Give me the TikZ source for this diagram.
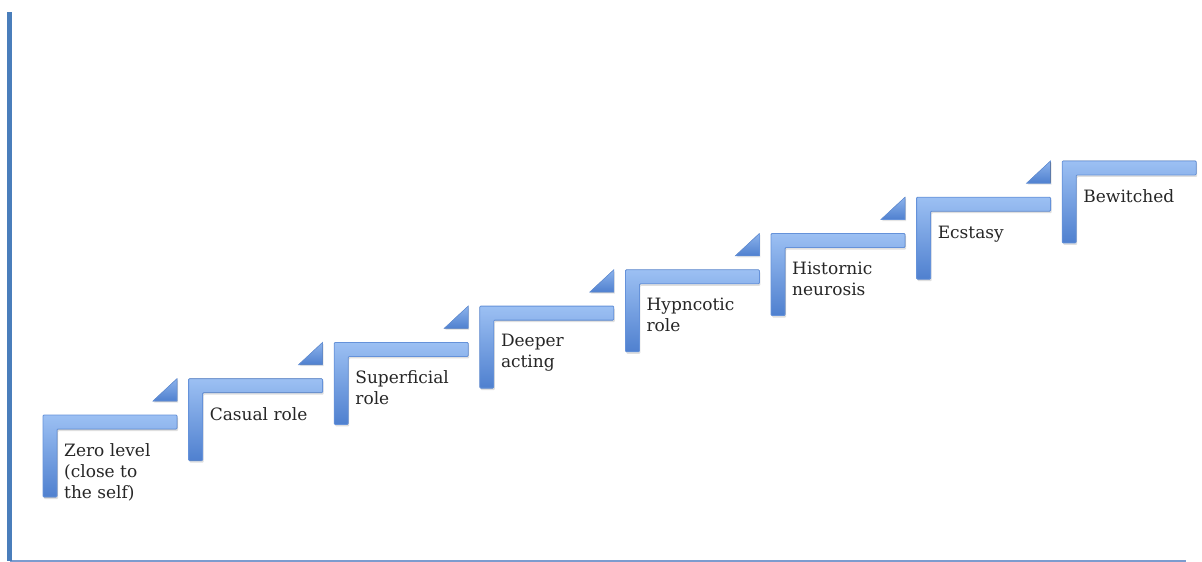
\documentclass[tikz,border=0pt]{standalone}
\usepackage{fontspec}
\setmainfont{DejaVu Serif}
\usepackage{xcolor}
\usetikzlibrary{shadows}

\definecolor{stepLight}{HTML}{9CC0F3}
\definecolor{stepDark}{HTML}{4F80CF}
\definecolor{stepEdge}{HTML}{6592DA}
\definecolor{axisBlue}{HTML}{4A7EBB}
\definecolor{baseBlue}{HTML}{7C9CCF}

\tikzset{
  stepbar/.style={top color=stepLight, bottom color=stepDark, draw=stepEdge, line width=0.8pt, rounded corners=1pt,
    drop shadow={opacity=0.25, shadow xshift=1pt, shadow yshift=-2pt}},
  steptip/.style={top color=stepLight!80!stepDark, bottom color=stepDark, draw=stepEdge, line width=0.6pt,
    drop shadow={opacity=0.2, shadow xshift=1pt, shadow yshift=-1.5pt}},
  steplabel/.style={font=\fontsize{17}{21}\selectfont, text=black!85, align=left, inner sep=0pt, anchor=north west}
}

\begin{document}
\begin{tikzpicture}[x=1pt, y=-1pt]
\useasboundingbox (0,0) rectangle (1202,562);
\fill[white] (0,0) rectangle (1202,562);
% axes
\coordinate (axtop) at (9.5,12);
\coordinate (axcorner) at (9.5,561);
\coordinate (axend) at (1186,561);
\draw[baseBlue, line width=1.5pt] (axcorner) -- (axend);
\draw[axisBlue, line width=5pt] (axtop) -- (axcorner);
% stairs
\foreach \lbl [count=\i from 0] in {{Zero level\\(close to\\the self)}, {Casual role}, {Superficial\\role}, {Deeper\\acting}, {Hypncotic\\role}, {Histornic\\neurosis}, {Ecstasy}, {Bewitched}} {
  \coordinate (s\i) at ({43+145.6*\i},{415-36.3*\i});
  \begin{scope}[shift={(s\i)}]
    \fill[stepbar] (0,0) -- (134,0) -- (134,14) -- (14,14) -- (14,82) -- (0,82) -- cycle;
    \ifnum\i<7
      \fill[steptip] (110,-14) -- (134,-14) -- (134,-36.3) -- cycle;
    \fi
    \node[steplabel] (lbl\i) at (21,28.3) {\lbl};
  \end{scope}
}
\end{tikzpicture}
\end{document}
